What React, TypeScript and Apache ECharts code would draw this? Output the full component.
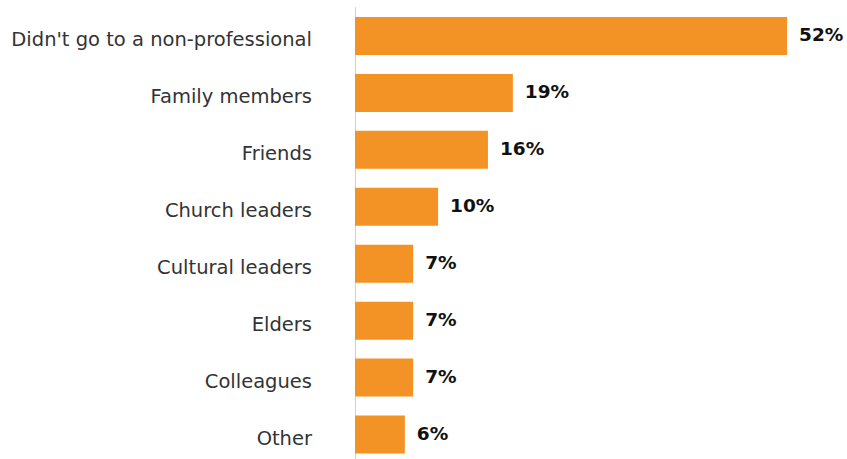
import React, { useEffect, useRef } from "react";
import * as echarts from "echarts";

const categories = [
  "Didn't go to a non-professional",
  "Family members",
  "Friends",
  "Church leaders",
  "Cultural leaders",
  "Elders",
  "Colleagues",
  "Other",
];
const values = [52, 19, 16, 10, 7, 7, 7, 6];

export default function App() {
  const ref = useRef<HTMLDivElement>(null);
  useEffect(() => {
    if (!ref.current) return;
    const chart = echarts.init(ref.current, undefined, { renderer: "svg" });
    chart.setOption({
      animation: false,
      grid: { left: 355, right: 35, top: 7.5, bottom: 7, containLabel: false },
      xAxis: {
        type: "value",
        min: 0,
        max: 55,
        show: false,
        splitLine: { show: false },
      },
      yAxis: {
        type: "category",
        inverse: true,
        data: categories,
        axisTick: { show: false },
        axisLine: { show: true, lineStyle: { color: "#c9d1dd", width: 1 } },
        axisLabel: {
          margin: 43,
          formatter: (v: string) => "{a|" + v + "}",
          rich: {
            a: {
              color: "#333333",
              fontFamily: "DejaVu Sans",
              fontSize: 19.5,
              fontWeight: 400,
              padding: [8, 0, 0, 0],
            },
          },
        },
      },
      series: [
        {
          type: "bar",
          data: values,
          barWidth: 38,
          itemStyle: { color: "#F39325" },
          label: {
            show: true,
            position: "right",
            distance: 12,
            offset: [0, -1],
            formatter: "{c}%",
            color: "#111",
            fontFamily: "DejaVu Sans",
            fontWeight: 700,
            fontSize: 18.5,
          },
        },
      ],
    });
    return () => chart.dispose();
  }, []);
  return (
    <div
      style={{
        position: "absolute",
        left: 0,
        top: 0,
        width: 847,
        height: 459,
        overflow: "hidden",
      }}
    >
      <div ref={ref} style={{ width: 847, height: 470 }} />
    </div>
  );
}
